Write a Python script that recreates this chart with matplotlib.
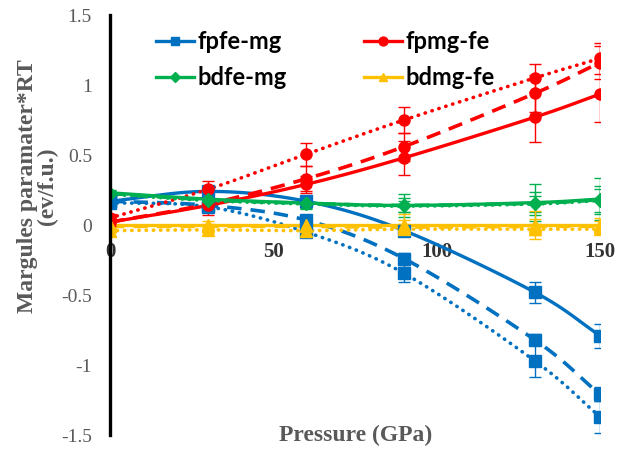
import numpy as np
import matplotlib
matplotlib.use("Agg")
import matplotlib.pyplot as plt

# pressure points (GPa)
pressure = [0, 30, 60, 90, 130, 150]

# fpfe-mg (blue)
fpfe_solid = [0.17, 0.24, 0.17, -0.04, -0.48, -0.79]
fpfe_dash = [0.17, 0.14, 0.035, -0.24, -0.82, -1.21]
fpfe_dot = [0.16, 0.13, -0.05, -0.345, -0.97, -1.37]
fpfe_solid_err = [0.02, 0.03, 0.03, 0.04, 0.075, 0.085]
fpfe_dash_err = [0.02, 0.03, 0.03, 0.04, 0.04, 0.05]
fpfe_dot_err = [0.02, 0.03, 0.03, 0.06, 0.115, 0.115]

# fpmg-fe (red)
fpmg_solid = [0.02, 0.14, 0.29, 0.48, 0.77, 0.935]
fpmg_dash = [0.02, 0.15, 0.33, 0.56, 0.94, 1.16]
fpmg_dot = [0.05, 0.255, 0.505, 0.75, 1.05, 1.19]
fpmg_solid_err = [0.1, 0.07, 0.06, 0.12, 0.18, 0.2]
fpmg_dash_err = [0.03, 0.06, 0.09, 0.1, 0.13, 0.12]
fpmg_dot_err = [0.03, 0.06, 0.08, 0.09, 0.1, 0.11]

# bdfe-mg (green)
bdfe_solid = [0.23, 0.185, 0.157, 0.14, 0.16, 0.185]
bdfe_dash = [0.225, 0.18, 0.155, 0.14, 0.155, 0.18]
bdfe_dot = [0.22, 0.175, 0.15, 0.135, 0.15, 0.175]
bdfe_solid_err = [0.02, 0.03, 0.04, 0.08, 0.13, 0.15]
bdfe_dash_err = [0.02, 0.02, 0.03, 0.05, 0.08, 0.1]
bdfe_dot_err = [0.02, 0.02, 0.03, 0.04, 0.06, 0.08]

# bdmg-fe (yellow)
bdmg_solid = [0.0, 0.0, 0.0, 0.0, 0.0, 0.0]
bdmg_dash = [-0.01, -0.01, -0.01, -0.015, -0.01, -0.01]
bdmg_dot = [-0.04, -0.035, -0.04, -0.03, -0.03, -0.03]
bdmg_solid_err = [0.02, 0.03, 0.03, 0.08, 0.1, 0.05]
bdmg_dash_err = [0.02, 0.02, 0.03, 0.05, 0.05, 0.04]
bdmg_dot_err = [0.02, 0.02, 0.02, 0.04, 0.04, 0.03]

x_ticks = [0, 50, 100, 150]
y_ticks = [-1.5, -1, -0.5, 0, 0.5, 1, 1.5]
y_tick_labels = ["-1.5", "-1", "-0.5", "0", "0.5", "1", "1.5"]


# Excel-like smoothed line through the points (Catmull-Rom)
def Smooth(xs, ys, n=20):
    xs = np.asarray(xs, float)
    ys = np.asarray(ys, float)
    px = np.concatenate([[2*xs[0]-xs[1]], xs, [2*xs[-1]-xs[-2]]])
    py = np.concatenate([[2*ys[0]-ys[1]], ys, [2*ys[-1]-ys[-2]]])
    outx, outy = [], []
    t = np.linspace(0, 1, n)
    for i in range(1, len(px)-2):
        for p, out in ((px, outx), (py, outy)):
            p0, p1, p2, p3 = p[i-1], p[i], p[i+1], p[i+2]
            seg = 0.5*((2*p1) + (-p0+p2)*t + (2*p0-5*p1+4*p2-p3)*t**2
                       + (-p0+3*p1-3*p2+p3)*t**3)
            out.extend(seg)
    return outx, outy


def Series(ax, ys, err, color, marker, ms, ls, label=None):
    sx, sy = Smooth(pressure, ys)
    if ls == "dot":
        line, = ax.plot(sx, sy, color=color, lw=2.6, linestyle=(0, (0.1, 1.9)),
                        dash_capstyle="round", zorder=3)
    elif ls == "dash":
        line, = ax.plot(sx, sy, color=color, lw=2.6, linestyle=(0, (4, 2.5)),
                        zorder=3)
    else:
        line, = ax.plot(sx, sy, color=color, lw=2.4, zorder=3)
    ax.errorbar(pressure, ys, yerr=err, fmt="none", ecolor=color, elinewidth=1.0,
                capsize=4, capthick=1.0, zorder=4)
    ax.plot(pressure, ys, linestyle="none", marker=marker, ms=ms, color=color,
            zorder=5)
    if label is not None:
        handle, = ax.plot([], [], color=color, lw=2.4, marker=marker, ms=ms*0.8,
                          label=label)
        return handle


fig = plt.figure(figsize=(6.3, 4.49), dpi=100)
ax = fig.add_axes([110/630, 14/449, 490/630, 420/449])

blue = "#0070C0"
red = "#FF0000"
green = "#00B050"
yellow = "#FFC000"

h1 = Series(ax, fpfe_solid, fpfe_solid_err, blue, "s", 8, "solid", "fpfe-mg")
Series(ax, fpfe_dash, fpfe_dash_err, blue, "s", 8, "dash")
Series(ax, fpfe_dot, fpfe_dot_err, blue, "s", 8, "dot")
h2 = Series(ax, fpmg_solid, fpmg_solid_err, red, "o", 8, "solid", "fpmg-fe")
Series(ax, fpmg_dash, fpmg_dash_err, red, "o", 8, "dash")
Series(ax, fpmg_dot, fpmg_dot_err, red, "o", 8, "dot")
h3 = Series(ax, bdfe_solid, bdfe_solid_err, green, "D", 6, "solid", "bdfe-mg")
Series(ax, bdfe_dash, bdfe_dash_err, green, "D", 6, "dash")
Series(ax, bdfe_dot, bdfe_dot_err, green, "D", 6, "dot")
h4 = Series(ax, bdmg_solid, bdmg_solid_err, yellow, "^", 8, "solid", "bdmg-fe")
Series(ax, bdmg_dash, bdmg_dash_err, yellow, "^", 8, "dash")
Series(ax, bdmg_dot, bdmg_dot_err, yellow, "^", 8, "dot")

ax.set_xlim(0, 150)
ax.set_ylim(-1.5, 1.5)

for side in ["top", "right", "bottom"]:
    ax.spines[side].set_visible(False)
ax.spines["left"].set_linewidth(2.4)
ax.spines["left"].set_color("black")
ax.spines["left"].set_zorder(6)
ax.spines["bottom"].set_position(("data", 0))

ax.set_xticks(x_ticks)
ax.set_xticklabels([str(v) for v in x_ticks], fontfamily="Liberation Serif",
                   fontweight="bold", fontsize=15, color="#333333")
ax.set_yticks(y_ticks)
ax.set_yticklabels(y_tick_labels, fontfamily="Liberation Serif", fontsize=14,
                   color="#595959")
ax.tick_params(axis="x", length=0, pad=12)
ax.tick_params(axis="y", length=0, pad=13)

ax.text(-0.148, 0.593, "Margules paramater*RT\n(ev/f.u.)", transform=ax.transAxes,
        rotation=90, ha="center", va="center", fontfamily="Liberation Serif",
        fontweight="bold", fontsize=17, color="#595959", linespacing=0.95)
ax.text(0.502, -0.002, "Pressure (GPa)", transform=ax.transAxes, ha="center",
        va="center", fontfamily="Liberation Serif", fontweight="bold",
        fontsize=17, color="#595959")

leg = ax.legend(handles=[h1, h3, h2, h4], ncol=2, loc="upper left",
                bbox_to_anchor=(0.05, 1.015), frameon=False,
                prop={"family": "Lato", "weight": "bold", "size": 17},
                handlelength=1.6, handletextpad=0.15, columnspacing=3.3,
                labelspacing=0.55)

fig.savefig("out.png", dpi=100)
